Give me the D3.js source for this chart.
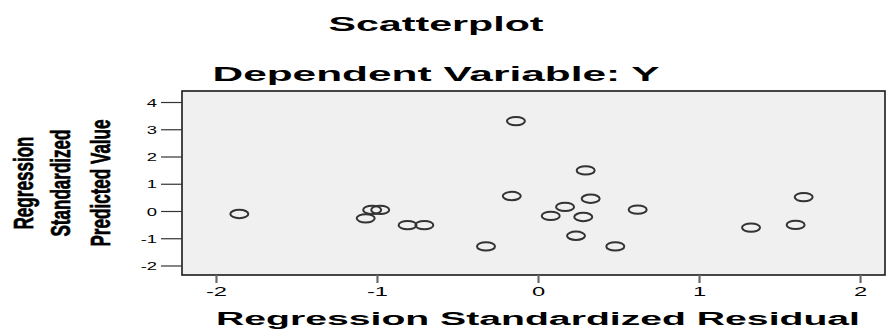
<!DOCTYPE html>
<html>
<head>
<meta charset="utf-8">
<script src="https://cdn.jsdelivr.net/npm/d3@7"></script>
<style>
  body { margin: 0; background: #fff; }
  svg text { font-family: "Liberation Sans", Arial, sans-serif; fill: #000; }
</style>
</head>
<body>
<script>
'use strict';

// residuals (x) and predicted values (y)
const residuals = [-1.855, -0.137, -0.163, -1.03, -0.98, -1.07, -0.81, -0.706, -0.323,
                   0.296, 0.327, 0.168, 0.079, 0.281, 0.619, 0.236, 0.48, 1.323, 1.60, 1.65];
const predicted = [-0.11, 3.30, 0.55, 0.04, 0.04, -0.27, -0.52, -0.52, -1.30,
                   1.49, 0.45, 0.15, -0.18, -0.22, 0.05, -0.91, -1.30, -0.61, -0.51, 0.51];
const xTicks = [-2, -1, 0, 1, 2];
const yTicks = [-2, -1, 0, 1, 2, 3, 4];

const title = 'Scatterplot';
const subtitle = 'Dependent Variable: Y';
const xLabel = 'Regression Standardized Residual';
const yLabel = ['Regression', 'Standardized', 'Predicted Value'];

const W = 886, H = 329;
const plot = {left: 182, right: 885, top: 91, bottom: 275};
const stretch = 1.9; // the original picture is squashed vertically

let x = d3.scaleLinear().domain([-2.211, 2.155]).range([plot.left, plot.right]);
let y = d3.scaleLinear().domain([-2.349, 4.404]).range([plot.bottom, plot.top]);

let svg = d3.select('body').append('svg')
    .attr('width', W)
    .attr('height', H);

// plot frame
svg.append('rect')
    .attr('x', plot.left)
    .attr('y', plot.top)
    .attr('width', plot.right - plot.left)
    .attr('height', plot.bottom - plot.top)
    .attr('fill', '#f0f0f0')
    .attr('stroke', '#1a1a1a')
    .attr('stroke-width', 1.6);

// titles
svg.append('text')
    .attr('x', 436).attr('y', 31)
    .attr('text-anchor', 'middle')
    .attr('font-size', 20).attr('font-weight', 'bold')
    .attr('textLength', 215).attr('lengthAdjust', 'spacingAndGlyphs')
    .text(title);

svg.append('text')
    .attr('x', 436).attr('y', 81)
    .attr('text-anchor', 'middle')
    .attr('font-size', 20).attr('font-weight', 'bold')
    .attr('textLength', 447).attr('lengthAdjust', 'spacingAndGlyphs')
    .text(subtitle);

// x axis
let gx = svg.append('g')
    .attr('transform', 'translate(0,' + plot.bottom + ')')
    .call(d3.axisBottom(x).tickValues(xTicks).tickSize(8).tickFormat(d3.format('d')));
gx.select('.domain').remove();
gx.selectAll('.tick line').attr('stroke', '#6a6a6a').attr('stroke-width', 2.2);
gx.selectAll('.tick text')
    .attr('y', 21).attr('dy', 0)
    .attr('font-size', 12.5)
    .attr('fill', '#111')
    .attr('transform', 'scale(' + stretch + ',1)')
    .text(d => String(d).replace('\u2212', '-'));

// y axis
let gy = svg.append('g')
    .attr('transform', 'translate(' + plot.left + ',0)')
    .call(d3.axisLeft(y).tickValues(yTicks).tickSize(21).tickFormat(d3.format('d')));
gy.select('.domain').remove();
gy.selectAll('.tick line').attr('stroke', '#333').attr('stroke-width', 1.2);
gy.selectAll('.tick text')
    .attr('x', -25 / 1.6).attr('dy', '0.36em')
    .attr('font-size', 11.5)
    .attr('fill', '#111')
    .attr('transform', 'scale(1.6,1)')
    .text(d => String(d).replace('\u2212', '-'));

// axis titles
svg.append('text')
    .attr('x', 538).attr('y', 325)
    .attr('text-anchor', 'middle')
    .attr('font-size', 18).attr('font-weight', 'bold')
    .attr('textLength', 644).attr('lengthAdjust', 'spacingAndGlyphs')
    .text(xLabel);

const yLabelBase = [33, 70, 110];
const yLabelLen = [93, 107, 127];
svg.selectAll('.ylab')
    .data(yLabel).enter()
  .append('text')
    .attr('class', 'ylab')
    .attr('transform', (d, i) => 'translate(' + yLabelBase[i] + ',183) rotate(-90)')
    .attr('text-anchor', 'middle')
    .attr('font-size', 27).attr('font-weight', 'bold')
    .attr('stroke', '#000').attr('stroke-width', 0.7)
    .attr('textLength', (d, i) => yLabelLen[i]).attr('lengthAdjust', 'spacingAndGlyphs')
    .text(d => d);

// points
svg.append('g')
    .selectAll('ellipse')
    .data(residuals).enter()
  .append('ellipse')
    .attr('cx', d => x(d))
    .attr('cy', (d, i) => y(predicted[i]))
    .attr('rx', 9)
    .attr('ry', 4.2)
    .attr('fill', 'none')
    .attr('stroke', '#333')
    .attr('stroke-width', 2);
</script>
</body>
</html>
